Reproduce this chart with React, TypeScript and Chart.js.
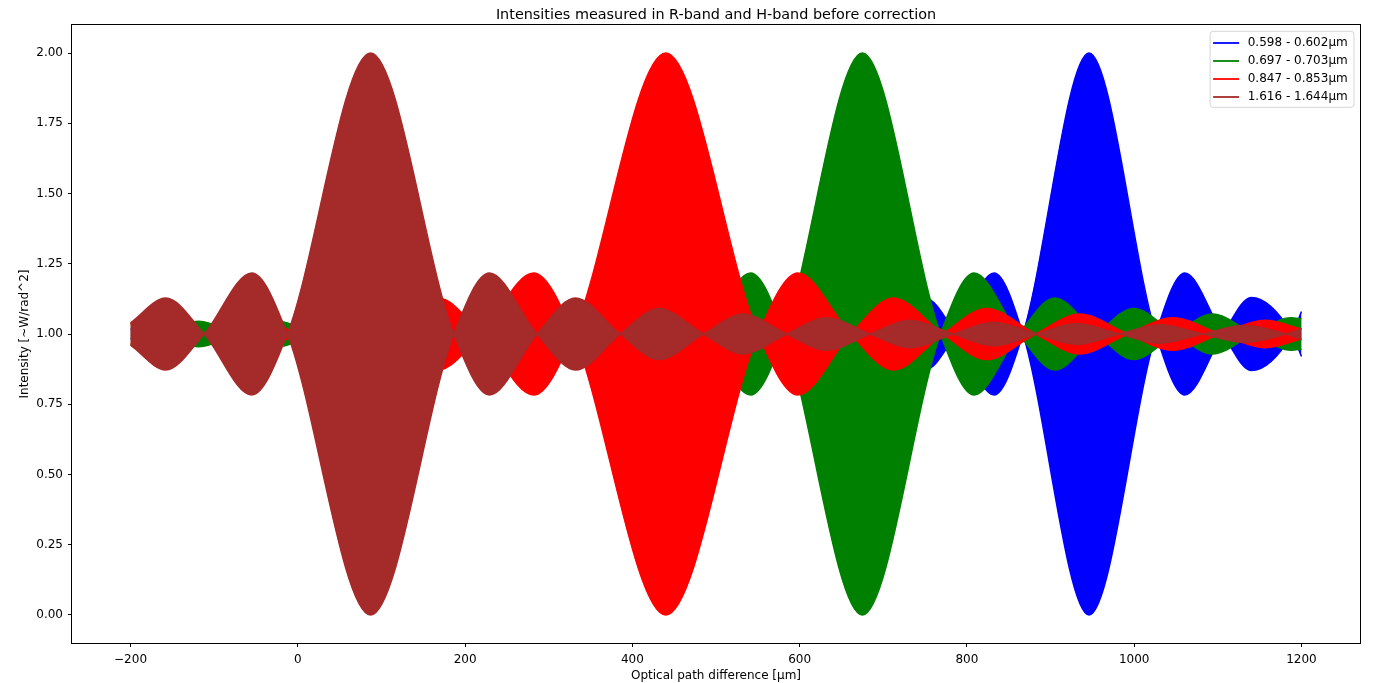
import React, { useEffect, useRef } from 'react';
import { Chart, registerables } from 'chart.js';

Chart.register(...registerables);

const TITLE = 'Intensities measured in R-band and H-band before correction';
const X_LABEL = 'Optical path difference [µm]';
const Y_LABEL = 'Intensity [~W/rad^2]';

const SERIES_LABELS = ['0.598 - 0.602µm', '0.697 - 0.703µm', '0.847 - 0.853µm', '1.616 - 1.644µm'];
const SERIES_COLORS = ['#0000ff', '#008000', '#ff0000', '#a52a2a'];

// Fringe envelopes: optical path difference (µm) of the
// lobe nodes / lobe peaks, and the signed envelope amplitude around 1.0 there.
const BLUE_OPD = [-200, -173, -132, -93, -52, -13, 28, 67, 108, 147, 188, 227, 268, 307, 348, 387, 428, 467, 508.5, 547, 589, 627, 669, 707, 750, 787, 832.5, 867, 946, 1026, 1060.5, 1106, 1140, 1189, 1200];
const BLUE_AMP = [0.018, 0, -0.023, 0, 0.025, 0, -0.027, 0, 0.03, 0, -0.033, 0, 0.037, 0, -0.042, 0, 0.049, 0, -0.058, 0, 0.071, 0, -0.091, 0, 0.128, 0, -0.217, 0, 1.0, 0, -0.217, 0, 0.13, 0, -0.08];

const GREEN_OPD = [-200, -166.5, -118.5, -73, -25, 20.5, 68.5, 114, 162.5, 207.5, 256.5, 301, 350.5, 394.5, 445, 488, 541.5, 581.5, 675, 768.5, 808.5, 862, 905, 955.5, 999.5, 1049, 1093.5, 1142.5, 1187.5, 1200];
const GREEN_AMP = [-0.04, 0, 0.045, 0, -0.046, 0, 0.049, 0, -0.058, 0, 0.071, 0, -0.091, 0, 0.128, 0, -0.217, 0, 1.0, 0, -0.217, 0, 0.128, 0, -0.091, 0, 0.071, 0, -0.058, -0.054];

const RED_OPD = [-200, -166, -112.5, -55, -2, 56.5, 108.5, 168, 219, 282, 329.5, 440, 550.5, 598, 661, 712, 771.5, 823.5, 882, 935, 992.5, 1046, 1103, 1156.5, 1200];
const RED_AMP = [-0.035, -0.058, 0, 0.071, 0, -0.091, 0, 0.128, 0, -0.217, 0, 1.0, 0, -0.217, 0, 0.128, 0, -0.091, 0, 0.071, 0, -0.058, 0, 0.049, 0.018];

const BROWN_OPD = [-200, -158, -112, -55, -12.5, 87, 186.5, 229, 286, 332, 385.5, 432, 485, 532.5, 584.5, 632.5, 684, 732, 783.5, 832, 883, 931.5, 982.5, 1031, 1082, 1131, 1181.5, 1200];
const BROWN_AMP = [0.04, 0.128, 0, -0.217, 0, 1.0, 0, -0.217, 0, 0.128, 0, -0.091, 0, 0.071, 0, -0.058, 0, 0.049, 0, -0.042, 0, 0.037, 0, -0.033, 0, 0.03, 0, -0.02];

const BASELINE = 1.0;

const X_MIN = -270;
const X_MAX = 1270;
const Y_MIN = -0.1;
const Y_MAX = 2.1;
const X_TICKS = [-200, 0, 200, 400, 600, 800, 1000, 1200];
const Y_TICKS = [0, 0.25, 0.5, 0.75, 1.0, 1.25, 1.5, 1.75, 2.0];

const FONT = '"DejaVu Sans", "Liberation Sans", sans-serif';

const decorPlugin = {
  id: 'decor',
  afterDraw(chart: any) {
    const { ctx, chartArea: ca } = chart;
    ctx.save();
    // axes frame
    ctx.strokeStyle = '#000';
    ctx.lineWidth = 1;
    ctx.strokeRect(ca.left - 0.5, ca.top - 0.5, ca.right - ca.left + 1, ca.bottom - ca.top + 1);

    ctx.fillStyle = '#000';
    // title
    ctx.font = `14.4px ${FONT}`;
    ctx.textAlign = 'center';
    ctx.textBaseline = 'alphabetic';
    ctx.fillText(TITLE, (ca.left + ca.right) / 2, 19);

    // x label
    ctx.font = `12px ${FONT}`;
    ctx.fillText(X_LABEL, (ca.left + ca.right) / 2, 679);

    // y label
    ctx.save();
    ctx.translate(24.5, (ca.top + ca.bottom) / 2);
    ctx.rotate(-Math.PI / 2);
    ctx.textBaseline = 'middle';
    ctx.fillText(Y_LABEL, 0, 0);
    ctx.restore();

    // legend
    ctx.font = `12px ${FONT}`;
    let maxW = 0;
    SERIES_LABELS.forEach((l) => { maxW = Math.max(maxW, ctx.measureText(l).width); });
    const right = ca.right - 6;
    const top = ca.top + 6.3;
    const textX = right - 6.3 - maxW;
    const left = textX - 37.6;
    const rowH = 18;
    const height = 76;
    const r = 3;
    ctx.beginPath();
    ctx.moveTo(left + r, top);
    ctx.lineTo(right - r, top);
    ctx.arcTo(right, top, right, top + r, r);
    ctx.lineTo(right, top + height - r);
    ctx.arcTo(right, top + height, right - r, top + height, r);
    ctx.lineTo(left + r, top + height);
    ctx.arcTo(left, top + height, left, top + height - r, r);
    ctx.lineTo(left, top + r);
    ctx.arcTo(left, top, left + r, top, r);
    ctx.closePath();
    ctx.fillStyle = 'rgba(255,255,255,0.8)';
    ctx.fill();
    ctx.strokeStyle = 'rgba(204,204,204,0.8)';
    ctx.lineWidth = 1;
    ctx.stroke();

    ctx.textAlign = 'left';
    ctx.textBaseline = 'middle';
    SERIES_LABELS.forEach((l, i) => {
      const y = top + 11.7 + i * rowH;
      ctx.strokeStyle = SERIES_COLORS[i];
      ctx.lineWidth = 1.8;
      ctx.beginPath();
      ctx.moveTo(left + 3, y);
      ctx.lineTo(left + 29, y);
      ctx.stroke();
      ctx.fillStyle = '#000';
      ctx.fillText(l, textX, y);
    });
    ctx.restore();
  },
};

export default function App() {
  const canvasRef = useRef<HTMLCanvasElement | null>(null);

  useEffect(() => {
    const canvas = canvasRef.current;
    if (!canvas) return;

    const series = [
      { label: SERIES_LABELS[0], color: SERIES_COLORS[0], opd: BLUE_OPD, amp: BLUE_AMP },
      { label: SERIES_LABELS[1], color: SERIES_COLORS[1], opd: GREEN_OPD, amp: GREEN_AMP },
      { label: SERIES_LABELS[2], color: SERIES_COLORS[2], opd: RED_OPD, amp: RED_AMP },
      { label: SERIES_LABELS[3], color: SERIES_COLORS[3], opd: BROWN_OPD, amp: BROWN_AMP },
    ];

    const datasets: any[] = [];
    // dataset 0 is drawn on top in Chart.js, so the last plotted series goes first
    [...series].reverse().forEach((s) => {
      const common = {
        borderColor: s.color,
        backgroundColor: s.color,
        borderWidth: 1.5,
        pointRadius: 0,
        pointHoverRadius: 0,
        cubicInterpolationMode: 'monotone',
      };
      datasets.push({
        ...common,
        label: s.label,
        data: s.opd.map((x, i) => ({ x, y: BASELINE + s.amp[i] })),
        fill: '+1',
      });
      datasets.push({
        ...common,
        label: s.label + ' (lower)',
        data: s.opd.map((x, i) => ({ x, y: BASELINE - s.amp[i] })),
        fill: false,
      });
    });

    const tickFont = { family: FONT, size: 12 };

    const chart = new Chart(canvas, {
      type: 'line',
      data: { datasets },
      plugins: [decorPlugin],
      options: {
        responsive: false,
        animation: false,
        devicePixelRatio: 1,
        events: [],
        layout: { padding: { top: 25, right: 15, left: 0, bottom: 0 } },
        plugins: {
          legend: { display: false },
          title: { display: false },
          tooltip: { enabled: false },
        },
        scales: {
          x: {
            type: 'linear',
            min: X_MIN,
            max: X_MAX,
            afterBuildTicks: (scale: any) => {
              scale.ticks = X_TICKS.map((v) => ({ value: v }));
            },
            afterFit: (scale: any) => {
              scale.height = 40;
            },
            grid: {
              display: true,
              drawOnChartArea: false,
              drawTicks: true,
              tickLength: 4,
              tickColor: '#000',
              tickWidth: 1,
            },
            border: { display: false },
            ticks: {
              autoSkip: false,
              maxRotation: 0,
              padding: 6,
              color: '#000',
              font: tickFont,
              callback: (v: any) => (Number(v) < 0 ? '\u2212' + Math.abs(Number(v)) : String(v)),
            },
          },
          y: {
            type: 'linear',
            min: Y_MIN,
            max: Y_MAX,
            afterBuildTicks: (scale: any) => {
              scale.ticks = Y_TICKS.map((v) => ({ value: v }));
            },
            afterFit: (scale: any) => {
              scale.width = 72;
            },
            grid: {
              display: true,
              drawOnChartArea: false,
              drawTicks: true,
              tickLength: 4,
              tickColor: '#000',
              tickWidth: 1,
            },
            border: { display: false },
            ticks: {
              autoSkip: false,
              padding: 5,
              color: '#000',
              font: tickFont,
              callback: (v: any) => Number(v).toFixed(2),
            },
          },
        },
      } as any,
    });

    return () => {
      chart.destroy();
    };
  }, []);

  return (
    <div style={{ position: 'absolute', left: 0, top: 0, width: 1375, height: 683, background: '#fff' }}>
      <canvas ref={canvasRef} width={1375} height={683} style={{ display: 'block' }} />
    </div>
  );
}
